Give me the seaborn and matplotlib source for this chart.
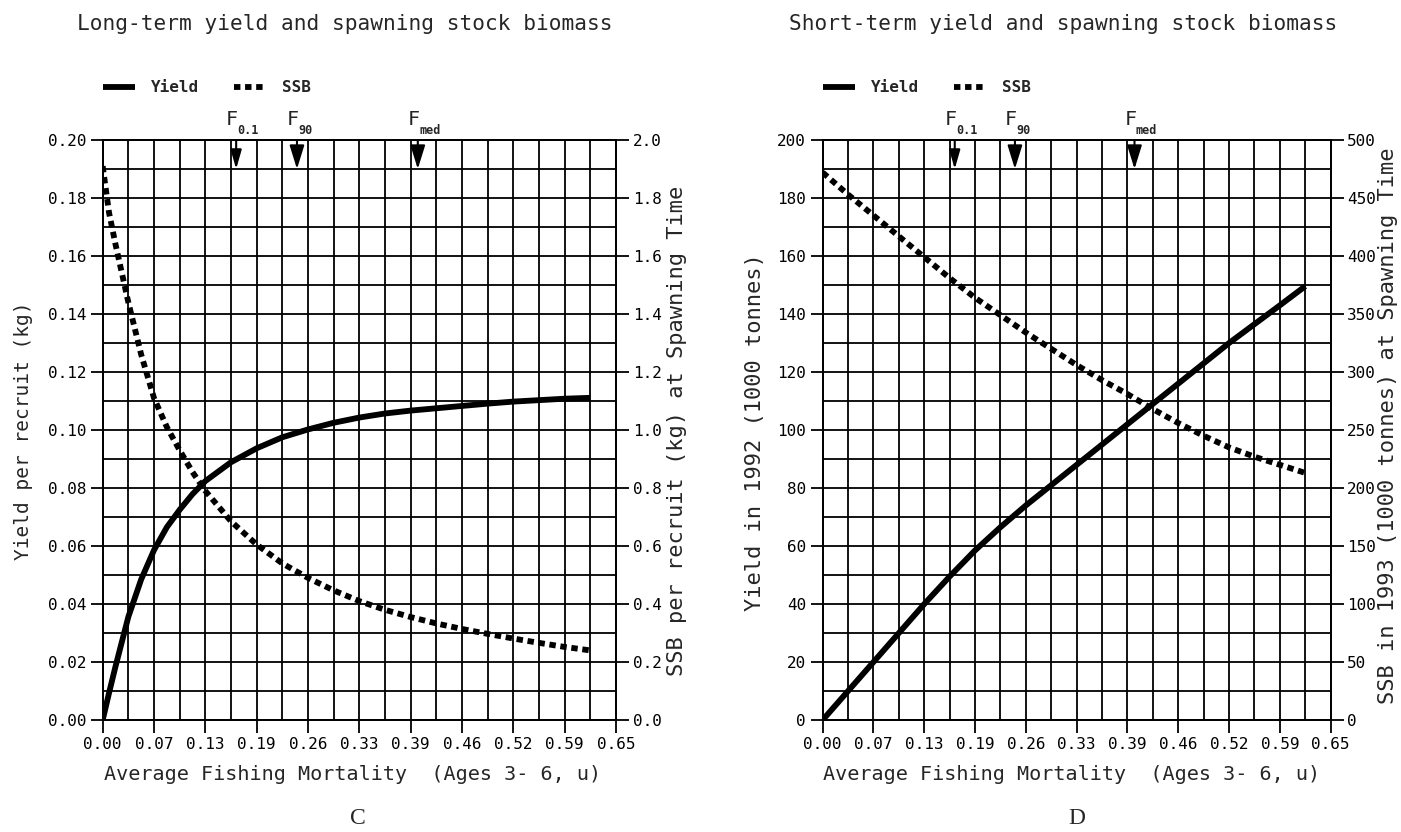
import numpy as np
import matplotlib
matplotlib.use("Agg")
import matplotlib.pyplot as plt
import seaborn as sns
from matplotlib.lines import Line2D

# ---- data ----
# panel C: long-term, per recruit
lt_f = [0.0, 0.008, 0.01625, 0.0325, 0.04875, 0.065, 0.08125, 0.0975, 0.11375, 0.13,
        0.1625, 0.195, 0.2275, 0.26, 0.2925, 0.325, 0.3575, 0.39, 0.4225, 0.455,
        0.4875, 0.52, 0.5525, 0.585, 0.6175]
lt_yield = [0.0, 0.0093, 0.0185, 0.0356, 0.0485, 0.0586, 0.0665, 0.0725, 0.0779, 0.0824,
            0.0889, 0.0937, 0.0975, 0.1002, 0.1025, 0.1043, 0.1057, 0.1067, 0.1075, 0.1083,
            0.1091, 0.1098, 0.1103, 0.1108, 0.1111]
lt_ssb = [1.91, 1.75, 1.64, 1.44, 1.26, 1.11, 1.01, 0.93, 0.855, 0.79,
          0.685, 0.605, 0.54, 0.49, 0.447, 0.41, 0.38, 0.355, 0.333, 0.314,
          0.297, 0.281, 0.266, 0.252, 0.24]

# panel D: short-term, 1000 tonnes
st_f = [0.0, 0.0325, 0.065, 0.0975, 0.13, 0.1625, 0.195, 0.2275, 0.26, 0.2925,
        0.325, 0.3575, 0.39, 0.4225, 0.455, 0.4875, 0.52, 0.5525, 0.585, 0.6175]
st_yield = [0, 10, 20, 30, 40, 49.5, 58.5, 66.5, 74, 81,
            88, 95, 102, 109, 116, 123, 130, 136.5, 143, 149.6]
st_ssb = [472, 453, 435, 417, 399, 381, 364, 349, 334, 320,
          306, 293, 281, 268, 256, 245, 235, 227, 220, 213]

# reference points
ref_names = ["0.1", "90", "med"]
ref_f = [0.169, 0.246, 0.399]

xtick_vals = [0.0, 0.065, 0.13, 0.195, 0.26, 0.325, 0.39, 0.455, 0.52, 0.585, 0.65]
xtick_labels = ["0.00", "0.07", "0.13", "0.19", "0.26", "0.33", "0.39", "0.46", "0.52", "0.59", "0.65"]

sns.set_style("ticks")
mono = "DejaVu Sans Mono"
plt.rcParams["font.family"] = [mono]
plt.rcParams["axes.linewidth"] = 1.3

W, H = 1401, 832
fig = plt.figure(figsize=(W / 100, H / 100), dpi=100)
axL = fig.add_axes([0.0733, 0.1346, 0.3664, 0.6971])
axR = fig.add_axes([0.5872, 0.1346, 0.3626, 0.6971])

DOTS = (0, (1.1, 0.8))


def ftext(px, py, s, **kw):
    # place text by pixel position in the figure (top-left origin)
    fig.text(px / W, 1 - py / H, s, ha="center", va="center", **kw)


def panel(ax, f, yld, ssb, ymax, ystep, yfmt, rmax, rstep, rfmt, leg_x):
    ax2 = ax.twinx()
    sns.lineplot(x=f, y=yld, ax=ax, color="black", lw=4.2, solid_capstyle="butt")
    sns.lineplot(x=f, y=ssb, ax=ax2, color="black", lw=4.2, linestyle=DOTS,
                 dash_capstyle="butt")

    ax.set_xlim(0, 0.65)
    ax.set_ylim(0, ymax)
    ax2.set_ylim(0, rmax)
    ax.set_xticks(xtick_vals)
    ax.set_xticklabels(xtick_labels)
    ax.set_xticks([x + 0.0325 for x in xtick_vals[:-1]], minor=True)
    yt = np.linspace(0, ymax, 11)
    ax.set_yticks(yt)
    ax.set_yticklabels([yfmt % v for v in yt])
    ax.set_yticks(yt[:-1] + ystep / 2, minor=True)
    rt = np.linspace(0, rmax, 11)
    ax2.set_yticks(rt)
    ax2.set_yticklabels([rfmt % v for v in rt])

    ax.grid(which="both", color="black", lw=1.3)
    ax.set_axisbelow(True)
    for a in (ax, ax2):
        a.tick_params(which="major", direction="out", length=9, width=1.3,
                      labelsize=11.5, colors="black", pad=3)
        a.tick_params(which="minor", length=0)
        for s in a.spines.values():
            s.set_visible(True)
            s.set_color("black")
            s.set_linewidth(1.3)
        a.set_xlabel("")
        a.set_ylabel("")

    # reference F arrows on the top edge
    cell = ymax / 20
    for name, fv in zip(ref_names, ref_f):
        hl, hw = (1.15, 0.33) if name == "0.1" else (1.45, 0.45)
        ax.annotate("", xy=(fv, ymax - cell), xytext=(fv, ymax),
                    arrowprops=dict(arrowstyle="-|>,head_length=%s,head_width=%s" % (hl, hw),
                                    color="black", lw=1.5, shrinkA=0, shrinkB=0),
                    annotation_clip=False)
        ax.annotate("F", xy=(fv, 1), xycoords=("data", "axes fraction"),
                    xytext=(1.5, 8), textcoords="offset points", ha="right", va="bottom",
                    fontsize=14.5)
        ax.annotate(name, xy=(fv, 1), xycoords=("data", "axes fraction"),
                    xytext=(1, 2.5), textcoords="offset points", ha="left", va="bottom",
                    fontsize=8.5, fontweight="bold")

    # legend above the grid
    handles = [Line2D([], [], color="black", lw=4.2, solid_capstyle="butt"),
               Line2D([], [], color="black", lw=4.2, linestyle=DOTS, dash_capstyle="butt")]
    ax2.legend(handles, ["Yield", "SSB"], loc="center left",
               bbox_to_anchor=(leg_x / W, 1 - 88 / H), bbox_transform=fig.transFigure,
               ncol=2, frameon=False, handlelength=2.0, handletextpad=1.0,
               columnspacing=2.2, borderpad=0, borderaxespad=0,
               prop={"family": mono, "weight": "bold", "size": 11.5})
    return ax2


panel(axL, lt_f, lt_yield, lt_ssb, 0.20, 0.02, "%.2f", 2.0, 0.2, "%.1f", 103)
panel(axR, st_f, st_yield, st_ssb, 200, 20, "%d", 500, 50, "%d", 823)

xlab = "Average Fishing Mortality  (Ages 3- 6, u)"
ftext(353, 774, xlab, fontsize=14.5)
ftext(1072, 774, xlab, fontsize=14.5)

ftext(345, 24, "Long-term yield and spawning stock biomass", fontsize=15.2)
ftext(1063, 24, "Short-term yield and spawning stock biomass", fontsize=15.2)

ftext(24, 431, "Yield per recruit (kg)", fontsize=14, rotation=90)
ftext(677, 431, "SSB per recruit (kg) at Spawning Time", fontsize=15.8, rotation=90)
ftext(755, 432, "Yield in 1992 (1000 tonnes)", fontsize=15.8, rotation=90)
ftext(1388, 426, "SSB in 1993 (1000 tonnes) at Spawning Time", fontsize=15.8, rotation=90)

ftext(358, 818, "C", fontsize=17, family="Liberation Serif")
ftext(1077, 818, "D", fontsize=17, family="Liberation Serif")

fig.savefig("out.png", dpi=100, facecolor="white")
